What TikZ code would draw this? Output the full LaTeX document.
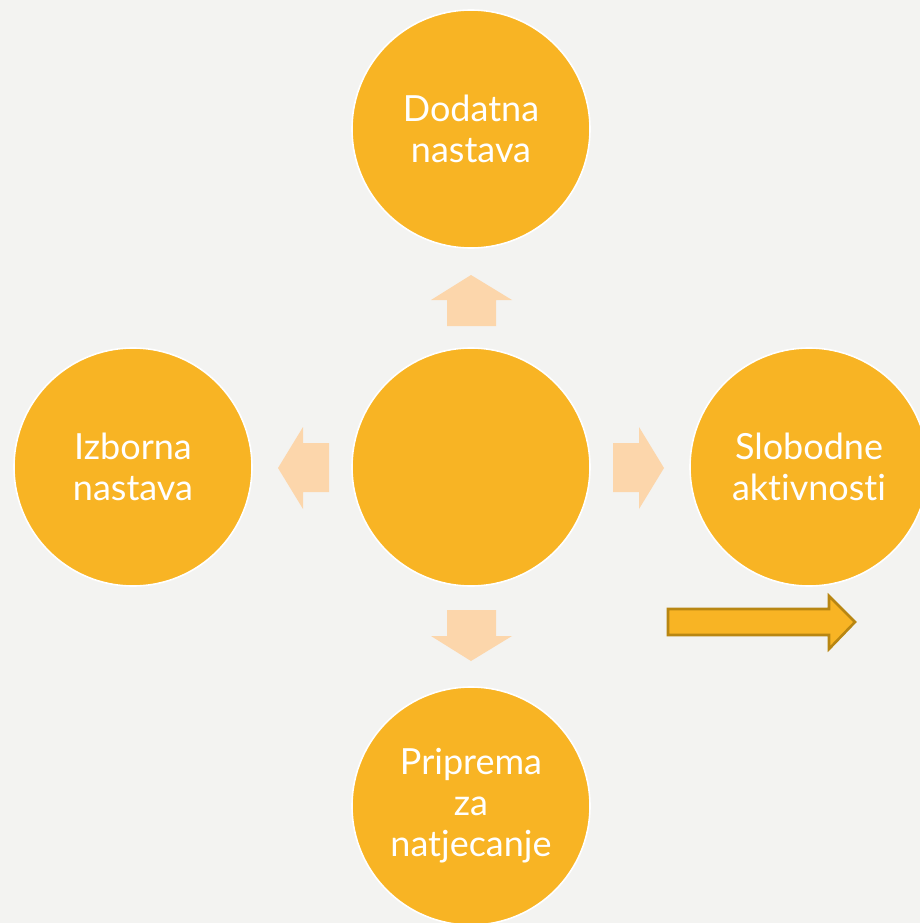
\documentclass[tikz,border=0pt]{standalone}
\usepackage{fontspec}
\setmainfont[Ligatures={NoCommon}]{Lato}
\definecolor{bgc}{HTML}{F3F3F1}
\definecolor{disc}{HTML}{F8B424}
\definecolor{peach}{HTML}{FCD6AB}
\definecolor{darkgold}{HTML}{B88612}
\tikzset{
  disk/.style={circle, fill=disc, draw=white, line width=1.6pt, minimum size=238pt, inner sep=0pt,
    text=white, align=center, font=\fontsize{36}{41}\selectfont},
  blockarrow/.style={fill=peach, draw=none},
  outarrow/.style={fill=disc, draw=darkgold, line width=2.6pt, line join=miter}
}
\begin{document}
\begin{tikzpicture}[x=1pt,y=-1pt]
\fill[bgc] (0,0) rectangle (920,923);
\useasboundingbox (0,0) rectangle (920,923);
\node[disk] (top) at (471,129) {Dodatna\\nastava};
\node[disk] (left) at (133,467) {Izborna\\nastava};
\node[disk] (mid) at (471,467) {};
\node[disk] (right) at (809,467) {Slobodne\\aktivnosti};
\node[disk] (bot) at (471,806) {Priprema\\za\\natjecanje};
% block arrows
\fill[blockarrow] (447,326) -- (447,300) -- (431,300) -- (471,275) -- (512,300) -- (496,300) -- (496,326) -- cycle;
\fill[blockarrow] (329,443) -- (303,443) -- (303,427) -- (278,468) -- (303,509) -- (303,492) -- (329,492) -- cycle;
\fill[blockarrow] (613,443) -- (639,443) -- (639,427) -- (664,468) -- (639,509) -- (639,492) -- (613,492) -- cycle;
\fill[blockarrow] (447,610) -- (447,636) -- (431,636) -- (471,661) -- (512,636) -- (496,636) -- (496,610) -- cycle;
% outlined arrow
\draw[outarrow] (668,609) -- (829,609) -- (829,596) -- (855,622) -- (829,649) -- (829,635) -- (668,635) -- cycle;
\end{tikzpicture}
\end{document}
